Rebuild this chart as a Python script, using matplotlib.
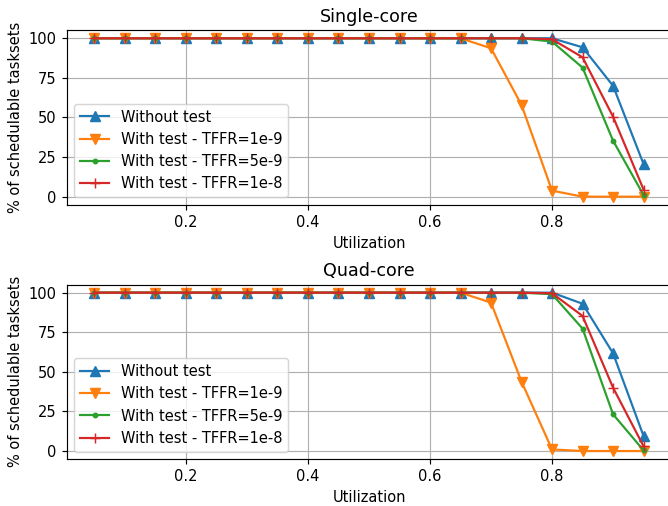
import matplotlib
matplotlib.use('Agg')
import matplotlib.pyplot as plt

# utilization values
util = [0.05, 0.10, 0.15, 0.20, 0.25, 0.30, 0.35, 0.40, 0.45, 0.50,
        0.55, 0.60, 0.65, 0.70, 0.75, 0.80, 0.85, 0.90, 0.95]

# ==== single-core ==== #
single_no_test = [100] * 15 + [100, 94.3, 70.0, 20.6]
single_1e9 = [100] * 13 + [93.7, 57.9, 3.8, 0, 0, 0]
single_5e9 = [100] * 15 + [97.9, 81.5, 35.4, 1.0]
single_1e8 = [100] * 15 + [99.4, 88.0, 50.5, 4.5]

# ==== quad-core ==== #
quad_no_test = [100] * 15 + [100, 93.0, 61.7, 9.5]
quad_1e9 = [100] * 13 + [93.7, 43.8, 1.0, 0, 0, 0]
quad_5e9 = [100] * 15 + [99.0, 77.3, 23.2, 0.4]
quad_1e8 = [100] * 15 + [99.6, 85.3, 40.0, 3.0]

labels = ['Without test', 'With test - TFFR=1e-9',
          'With test - TFFR=5e-9', 'With test - TFFR=1e-8']
markers = ['^', 'v', '.', '+']
sizes = [7, 7, 6, 7]


def draw(ax, series, title):
    for vals, lab, m, ms in zip(series, labels, markers, sizes):
        ax.plot(util, vals, marker=m, markersize=ms, label=lab)
    ax.set_title(title, fontsize=12)
    ax.set_xlabel('Utilization')
    ax.set_ylabel('% of schedulable tasksets')
    ax.set_xticks([0.2, 0.4, 0.6, 0.8])
    ax.set_yticks([0, 25, 50, 75, 100])
    ax.grid(True)
    ax.legend(loc='lower left')


fig, (ax1, ax2) = plt.subplots(2, 1, figsize=(668 / 105, 506 / 105), dpi=105)
fig.subplots_adjust(left=0.1003, right=1.0045, top=0.940, bottom=0.093, hspace=0.46)

draw(ax1, [single_no_test, single_1e9, single_5e9, single_1e8], 'Single-core')
draw(ax2, [quad_no_test, quad_1e9, quad_5e9, quad_1e8], 'Quad-core')

fig.savefig('out.png', dpi=105)
